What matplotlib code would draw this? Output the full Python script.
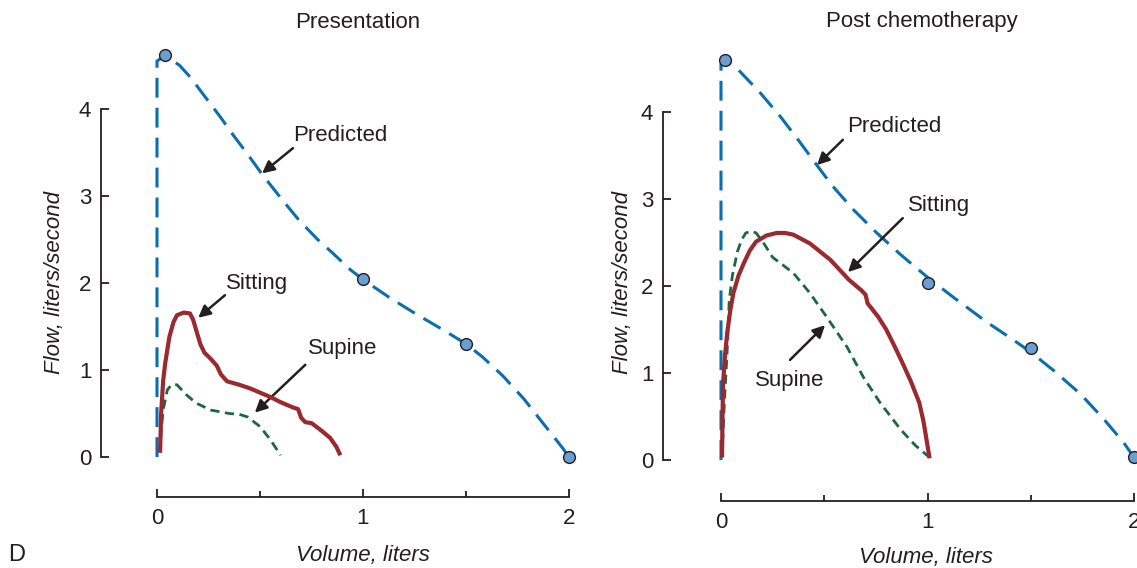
import matplotlib.pyplot as plt

plt.rcParams['font.family'] = ['Liberation Sans', 'DejaVu Sans']

W, H = 1137, 568

# ---- data (volume in liters, flow in liters/second) ----
# Presentation
pred_vol_a = [0.0, 0.0, 0.04, 0.11, 0.16, 0.24, 0.31, 0.37, 0.44, 0.51, 0.61, 0.69, 0.78, 0.85, 0.94, 1.0,
              1.13, 1.26, 1.39, 1.5, 1.58, 1.68, 1.78, 1.87, 1.97, 2.0]
pred_flow_a = [0.0, 4.55, 4.62, 4.50, 4.37, 4.12, 3.90, 3.70, 3.48, 3.25, 2.95, 2.72, 2.50, 2.35, 2.15, 2.04,
               1.83, 1.64, 1.46, 1.30, 1.15, 0.93, 0.67, 0.40, 0.10, 0.0]
pred_pts_vol_a = [0.04, 1.0, 1.5, 2.0]
pred_pts_flow_a = [4.62, 2.05, 1.30, 0.0]
sit_vol_a = [0.015, 0.02, 0.03, 0.04, 0.06, 0.08, 0.097, 0.13, 0.16, 0.175, 0.19, 0.21, 0.23, 0.26, 0.29, 0.31, 0.34,
             0.37, 0.40, 0.45, 0.50, 0.55, 0.60, 0.66, 0.685, 0.70, 0.72, 0.75, 0.80, 0.84, 0.87, 0.89]
sit_flow_a = [0.05, 0.50, 0.88, 1.08, 1.38, 1.55, 1.63, 1.66, 1.65, 1.58, 1.46, 1.30, 1.20, 1.13, 1.05, 0.95, 0.87,
              0.85, 0.83, 0.79, 0.74, 0.69, 0.63, 0.57, 0.55, 0.45, 0.40, 0.39, 0.30, 0.22, 0.12, 0.02]
sup_vol_a = [0.015, 0.02, 0.03, 0.05, 0.07, 0.097, 0.14, 0.19, 0.26, 0.35, 0.40, 0.44, 0.50, 0.55, 0.60]
sup_flow_a = [0.05, 0.30, 0.54, 0.77, 0.83, 0.83, 0.72, 0.62, 0.54, 0.50, 0.49, 0.46, 0.35, 0.20, 0.02]

# Post chemotherapy
pred_vol_b = [0.0, 0.0, 0.02, 0.09, 0.19, 0.29, 0.38, 0.47, 0.54, 0.64, 0.75, 0.87, 1.0, 1.12, 1.29, 1.41, 1.5,
              1.61, 1.74, 1.85, 1.95, 2.0]
pred_flow_b = [0.0, 4.55, 4.60, 4.47, 4.22, 3.94, 3.66, 3.37, 3.15, 2.88, 2.62, 2.36, 2.10, 1.88, 1.58, 1.39, 1.24,
               1.03, 0.76, 0.48, 0.20, 0.03]
pred_pts_vol_b = [0.02, 1.0, 1.5, 2.0]
pred_pts_flow_b = [4.60, 2.03, 1.29, 0.03]
sit_vol_b = [0.005, 0.007, 0.01, 0.02, 0.03, 0.045, 0.06, 0.085, 0.11, 0.14, 0.17, 0.22, 0.27, 0.31, 0.35, 0.43,
             0.53, 0.62, 0.68, 0.70, 0.71, 0.76, 0.80, 0.84, 0.88, 0.92, 0.96, 0.98, 0.99, 1.01]
sit_flow_b = [0.03, 0.45, 0.88, 1.22, 1.46, 1.72, 1.92, 2.12, 2.26, 2.41, 2.51, 2.58, 2.61, 2.61, 2.59, 2.49,
              2.30, 2.07, 1.95, 1.90, 1.80, 1.65, 1.50, 1.31, 1.11, 0.90, 0.66, 0.45, 0.31, 0.02]
sup_vol_b = [0.005, 0.015, 0.03, 0.04, 0.055, 0.08, 0.10, 0.12, 0.15, 0.17, 0.21, 0.25, 0.30, 0.35, 0.43, 0.51,
             0.61, 0.69, 0.77, 0.87, 0.94, 1.01]
sup_flow_b = [0.03, 0.60, 1.26, 1.84, 2.12, 2.40, 2.53, 2.61, 2.63, 2.61, 2.48, 2.33, 2.24, 2.15, 1.92, 1.65,
              1.30, 0.95, 0.66, 0.35, 0.17, 0.03]

x_ticks = [0, 1, 2]
y_ticks = [0, 1, 2, 3, 4]

blue = '#0b6fae'
dot = '#6a9fd4'
red = '#9b2a30'
green = '#1c6642'
ink = '#231f20'
fs = 16

fig = plt.figure(figsize=(W / 100, H / 100), dpi=100)


def px_axes(left, bottom, right, top):
    return fig.add_axes([left / W, 1 - bottom / H, (right - left) / W, (bottom - top) / H])


def draw(ax, pv, pf, dv, df, sv, sf, uv, uf):
    ax.plot(pv, pf, color=blue, lw=2.2, dashes=(6.5, 3.3), zorder=2)
    ax.plot(uv, uf, color=green, lw=2.0, dashes=(3.3, 2.0), zorder=3)
    ax.plot(sv, sf, color=red, lw=3.0, solid_capstyle='butt', solid_joinstyle='round', zorder=4)
    ax.plot(dv, df, 'o', ms=8.5, mfc=dot, mec=ink, mew=1.0, clip_on=False, zorder=5)
    for s in ['top', 'right']:
        ax.spines[s].set_visible(False)
    ax.spines['left'].set_bounds(0, 4)
    ax.spines['bottom'].set_bounds(0, 2)
    for s in ['left', 'bottom']:
        ax.spines[s].set_color(ink)
        ax.spines[s].set_linewidth(1.3)
    ax.set_xticks(x_ticks)
    ax.set_xticks([0.5, 1.5], minor=True)
    ax.set_yticks(y_ticks)
    ax.tick_params(axis='y', direction='in', length=6, width=1.3, color=ink,
                   labelsize=fs, labelcolor=ink, pad=7)
    ax.tick_params(axis='x', which='major', direction='in', length=6, width=1.3,
                   color=ink, labelsize=fs, labelcolor=ink, pad=8)
    ax.tick_params(axis='x', which='minor', direction='in', length=4, width=1.3, color=ink)
    ax.patch.set_visible(False)


def note(ax, label, tx, ty, tail, tip, ha='left'):
    ax.text(tx, ty, label, fontsize=fs, color=ink, ha=ha, va='center')
    ax.annotate('', xy=tip, xytext=tail,
                arrowprops=dict(arrowstyle='-|>', mutation_scale=18, lw=1.8,
                                color=ink, shrinkA=0, shrinkB=0))


# left panel: spine at x=101px, x axis at y=497px; x0=157px, 206 px/l; y0=457px, 87 px/unit
ax1 = px_axes(101, 497, 590, 40)
ax1.set_xlim((101 - 157) / 206, (590 - 157) / 206)
ax1.set_ylim((457 - 497) / 87, (457 - 40) / 87)
draw(ax1, pred_vol_a, pred_flow_a, pred_pts_vol_a, pred_pts_flow_a,
     sit_vol_a, sit_flow_a, sup_vol_a, sup_flow_a)
note(ax1, 'Predicted', 0.66, 3.69, (0.66, 3.55), (0.51, 3.26))
note(ax1, 'Sitting', 0.335, 2.0, (0.33, 1.86), (0.20, 1.60))
note(ax1, 'Supine', 0.733, 1.25, (0.72, 1.06), (0.475, 0.51))

# right panel: spine at x=663px, x axis at y=501px; x0=721px, 206.5 px/l; y0=460px, 87 px/unit
ax2 = px_axes(663, 501, 1137, 40)
ax2.set_xlim((663 - 721) / 206.5, (1137 - 721) / 206.5)
ax2.set_ylim((460 - 501) / 87, (460 - 40) / 87)
draw(ax2, pred_vol_b, pred_flow_b, pred_pts_vol_b, pred_pts_flow_b,
     sit_vol_b, sit_flow_b, sup_vol_b, sup_flow_b)
ax2.spines['bottom'].set_clip_on(False)
note(ax2, 'Predicted', 0.61, 3.83, (0.59, 3.68), (0.465, 3.39))
note(ax2, 'Sitting', 0.905, 2.92, (0.88, 2.78), (0.615, 2.16))
note(ax2, 'Supine', 0.165, 0.91, (0.334, 1.15), (0.504, 1.55))

# titles and axis labels
fig.text(358 / W, 1 - 22 / H, 'Presentation', fontsize=fs, color=ink, ha='center', va='center')
fig.text(922 / W, 1 - 22 / H, 'Post chemotherapy', fontsize=fs, color=ink, ha='center', va='center')
fig.text(363 / W, 1 - 555 / H, 'Volume, liters', fontsize=fs, style='italic', color=ink, ha='center', va='center')
fig.text(926 / W, 1 - 557 / H, 'Volume, liters', fontsize=fs, style='italic', color=ink, ha='center', va='center')
fig.text(55 / W, 1 - 283 / H, 'Flow, liters/second', fontsize=fs, style='italic', color=ink,
         rotation=90, ha='center', va='center')
fig.text(622 / W, 1 - 283 / H, 'Flow, liters/second', fontsize=fs, style='italic', color=ink,
         rotation=90, ha='center', va='center')
fig.text(8 / W, 1 - 555 / H, 'D', fontsize=17, color=ink, ha='left', va='center')

fig.savefig('out.png', dpi=100)
